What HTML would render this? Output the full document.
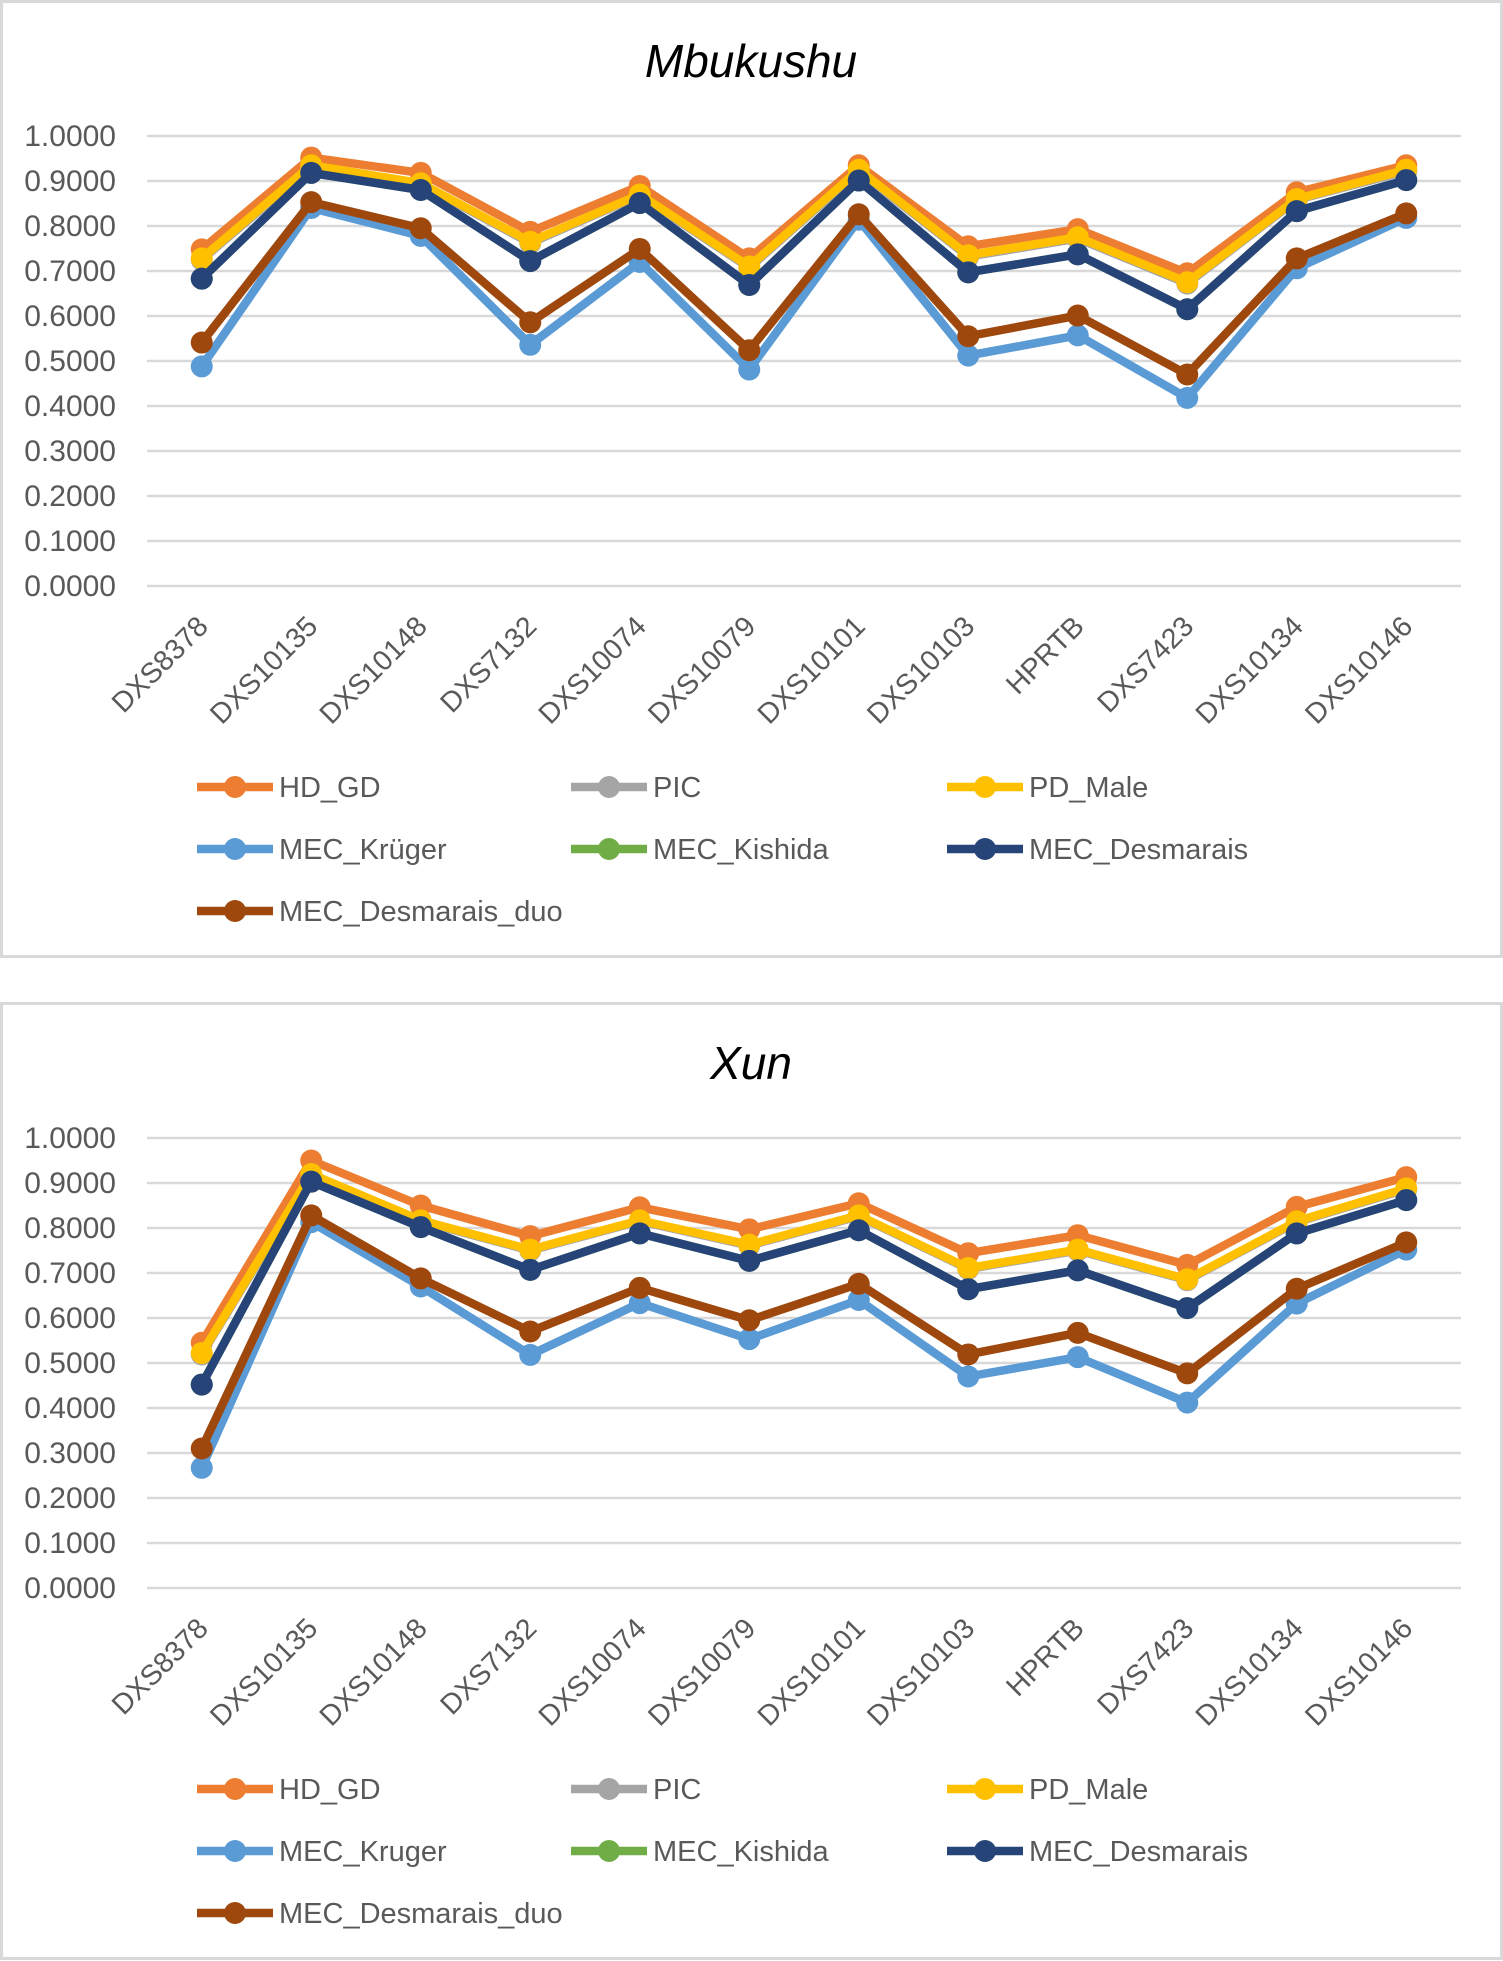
<!DOCTYPE html>
<html><head><meta charset="utf-8"><style>
html,body{margin:0;padding:0;background:#fff;}
svg{display:block;font-family:"Liberation Sans",sans-serif;}
</style></head><body>
<svg id="root" width="1503" height="1961" viewBox="0 0 1503 1961" xmlns="http://www.w3.org/2000/svg"></svg>
<script>
const categories = ["DXS8378","DXS10135","DXS10148","DXS7132","DXS10074","DXS10079","DXS10101","DXS10103","HPRTB","DXS7423","DXS10134","DXS10146"];
const yTickLabels = ["0.0000","0.1000","0.2000","0.3000","0.4000","0.5000","0.6000","0.7000","0.8000","0.9000","1.0000"];
const seriesNames1 = ["HD_GD","PIC","PD_Male","MEC_Krüger","MEC_Kishida","MEC_Desmarais","MEC_Desmarais_duo"];
const seriesNames2 = ["HD_GD","PIC","PD_Male","MEC_Kruger","MEC_Kishida","MEC_Desmarais","MEC_Desmarais_duo"];
const seriesColors = ["#ED7D31","#A5A5A5","#FFC000","#5B9BD5","#70AD47","#264478","#9E480E"];

const mbHD   = [.748,.952,.918,.787,.889,.728,.935,.755,.793,.695,.875,.935];
const mbPIC  = [.725,.932,.893,.762,.868,.707,.922,.732,.772,.672,.858,.922];
const mbPD   = [.728,.935,.895,.765,.870,.710,.925,.735,.775,.675,.860,.925];
const mbKru  = [.488,.840,.778,.536,.720,.481,.814,.512,.557,.418,.706,.818];
const mbKis  = [.683,.918,.880,.722,.851,.669,.901,.697,.737,.615,.833,.902];
const mbDes  = [.683,.918,.880,.722,.851,.669,.901,.697,.737,.615,.833,.902];
const mbDuo  = [.541,.853,.795,.586,.749,.524,.826,.555,.601,.470,.728,.828];

const xnHD   = [.545,.950,.850,.782,.846,.797,.855,.744,.784,.718,.847,.913];
const xnPIC  = [.519,.917,.815,.750,.815,.761,.826,.709,.750,.684,.813,.886];
const xnPD   = [.522,.920,.817,.752,.817,.763,.828,.711,.752,.686,.815,.888];
const xnKru  = [.267,.813,.670,.518,.633,.553,.640,.470,.513,.412,.632,.752];
const xnKis  = [.452,.903,.802,.707,.788,.727,.795,.664,.706,.622,.788,.862];
const xnDes  = [.452,.903,.802,.707,.788,.727,.795,.664,.706,.622,.788,.862];
const xnDuo  = [.310,.828,.688,.570,.667,.595,.676,.519,.567,.477,.665,.768];

const NS="http://www.w3.org/2000/svg";
const root=document.getElementById('root');
function mk(tag,attrs,parent){const e=document.createElementNS(NS,tag);for(const k in attrs)e.setAttribute(k,attrs[k]);parent.appendChild(e);return e;}

function drawChart(oy,title,names,data,key){
  const g=mk('g',{},root);
  
  
  const frame=mk('rect',{x:1.5,y:oy+1.5,width:1500,height:955,fill:'#fff',stroke:'#d9d9d9','stroke-width':3},g);
  
  
  const t=mk('text',{x:751,y:oy+77,'text-anchor':'middle','font-size':46,'font-style':'italic',fill:'#000'},g);
  t.textContent=title;
  
  
  const left=147,right=1461,y0=oy+586,y1=oy+136;
  const band=(right-left)/categories.length;
  const xs=i=>left+band*(i+0.5);
  const ys=v=>y0-(y0-y1)*v;
  yTickLabels.forEach((lab,i)=>{
    const v=i/10,y=ys(v);
    const gl=mk('line',{x1:left,x2:right,y1:y,y2:y,stroke:'#d9d9d9','stroke-width':2.5},g);
    
    
    const tl=mk('text',{x:116,y:y+10,'text-anchor':'end','font-size':30,fill:'#595959'},g);
    tl.textContent=lab;
    
    
  });
  categories.forEach((c,i)=>{
    const x=xs(i)+8,y=oy+628;
    const cl=mk('text',{x:x,y:y,'text-anchor':'end','font-size':28.5,fill:'#595959',transform:`rotate(-45 ${x} ${y})`},g);
    cl.textContent=c;
    
    
  });
  data.forEach((vals,si)=>{
    const sg=mk('g',{},g);
    
    
    const pts=vals.map((v,i)=>xs(i)+','+ys(v)).join(' ');
    mk('polyline',{points:pts,fill:'none',stroke:seriesColors[si],'stroke-width':8.5,'stroke-linejoin':'round'},sg);
    vals.forEach((v,i)=>{
      const m=mk('circle',{cx:xs(i),cy:ys(v),r:11,fill:seriesColors[si]},sg);
      
      
    });
  });
  const colX=[197,571,947];
  names.forEach((n,si)=>{
    const col=si%3,row=Math.floor(si/3);
    const lx=colX[col],ly=oy+787+row*62;
    const lg=mk('g',{},g);
    
    
    mk('line',{x1:lx,x2:lx+76,y1:ly,y2:ly,stroke:seriesColors[si],'stroke-width':8.5},lg);
    mk('circle',{cx:lx+38,cy:ly,r:11,fill:seriesColors[si]},lg);
    const tx=mk('text',{x:lx+82,y:ly+10,'font-size':29,fill:'#595959'},lg);
    tx.textContent=n;
  });
}
drawChart(0,'Mbukushu',seriesNames1,[mbHD,mbPIC,mbPD,mbKru,mbKis,mbDes,mbDuo],'mbukushu');
drawChart(1002,'Xun',seriesNames2,[xnHD,xnPIC,xnPD,xnKru,xnKis,xnDes,xnDuo],'xun');
</script>
</body></html>
